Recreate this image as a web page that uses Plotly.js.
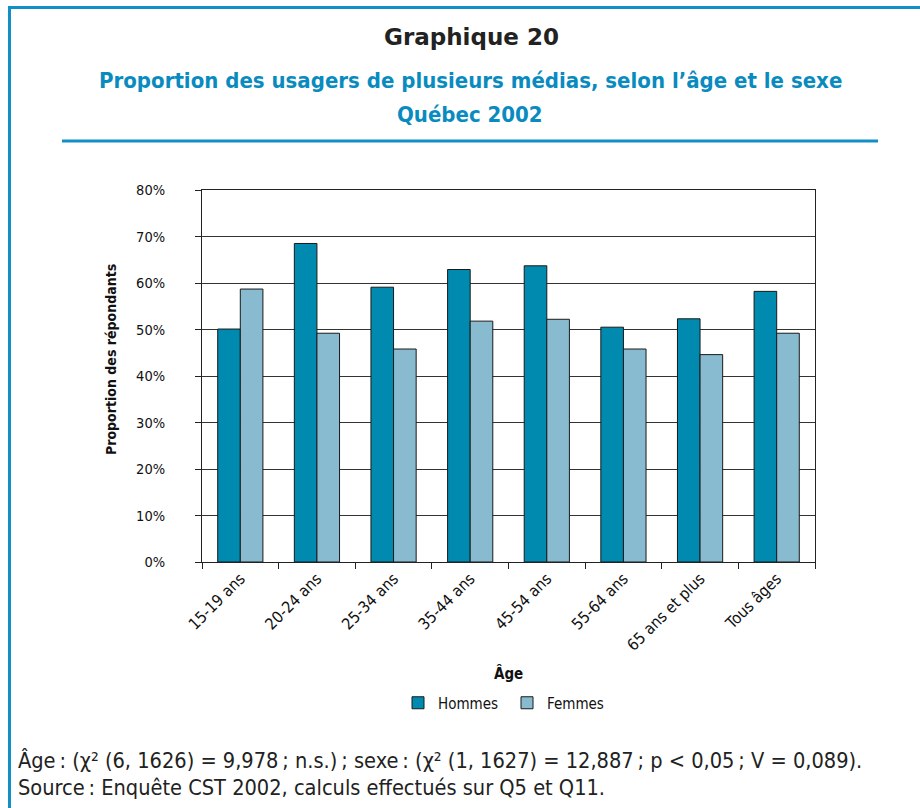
<!DOCTYPE html>
<html>
<head>
<meta charset="utf-8">
<script src="https://cdn.plot.ly/plotly-3.0.1.min.js"></script>
<style>
html,body{margin:0;padding:0;background:#fff;}
#chart{width:920px;height:808px;}
</style>
</head>
<body>
<div id="chart"></div>
<script>
const categories = ["15-19 ans","20-24 ans","25-34 ans","35-44 ans","45-54 ans","55-64 ans","65 ans et plus","Tous âges"];
const hommes = [0.501, 0.685, 0.591, 0.629, 0.637, 0.505, 0.523, 0.582];
const femmes = [0.587, 0.492, 0.458, 0.518, 0.522, 0.458, 0.446, 0.492];
const yTickVals = [0,0.1,0.2,0.3,0.4,0.5,0.6,0.7,0.8];
const yTickText = ["0%","10%","20%","30%","40%","50%","60%","70%","80%"];

const NARROW = "'DejaVu Sans Condensed', 'Liberation Sans Narrow', sans-serif";
const BLUE = "#118fc6";

const traces = [
  {type:"bar", name:"Hommes", x:categories, y:hommes,
   marker:{color:"#008aaf", line:{color:"#1a1a1a", width:1}}, hoverinfo:"skip"},
  {type:"bar", name:"Femmes", x:categories, y:femmes,
   marker:{color:"#89bbd0", line:{color:"#1a1a1a", width:1}}, hoverinfo:"skip"}
];

const layout = {
  width:920, height:808,
  margin:{l:202, r:105, t:190, b:246},
  paper_bgcolor:"#fff", plot_bgcolor:"#fff",
  barmode:"group", bargap:0.41, bargroupgap:0,
  showlegend:true,
  legend:{orientation:"h", x:0.5, xanchor:"center", y:-0.379, yanchor:"middle",
          font:{family:NARROW, size:15, color:"#111"}, entrywidth:64, entrywidthmode:"pixels",
          itemwidth:30, traceorder:"normal"},
  xaxis:{type:"category", tickson:"boundaries", ticks:"outside", ticklen:6, tickcolor:"#222",
         showline:true, linecolor:"#222", linewidth:1, mirror:true,
         tickangle:-45, tickfont:{family:NARROW, size:16, color:"#111"},
         showgrid:false, zeroline:false, fixedrange:true},
  yaxis:{range:[0,0.8], tickvals:yTickVals, ticktext:yTickText, ticks:"outside", ticklen:6,
         tickcolor:"#222", showline:true, linecolor:"#222", linewidth:1, mirror:true,
         showgrid:true, gridcolor:"#333", gridwidth:1, zeroline:false,
         tickfont:{family:NARROW, size:14.5, color:"#111"}, ticklabelstandoff:27, fixedrange:true},
  annotations:[
    {text:"<b>Graphique 20</b>", xref:"paper", yref:"paper", x:0.438, y:1.0,
     showarrow:false, font:{family:"'DejaVu Sans', sans-serif", size:23, color:"#222"},
     xanchor:"center", yanchor:"middle"},
    {text:"<b>Proportion des usagers de plusieurs médias, selon l’âge et le sexe</b>", showarrow:false,
     xref:"paper", yref:"paper", x:0.438, y:1, font:{family:NARROW, size:22, color:"#0a8bbf"},
     xanchor:"center", yanchor:"middle"},
    {text:"<b>Québec 2002</b>", showarrow:false, xref:"paper", yref:"paper", x:0.438, y:1,
     font:{family:NARROW, size:22, color:"#0a8bbf"}, xanchor:"center", yanchor:"middle"},
    {text:"<b>Proportion des répondants</b>", showarrow:false, xref:"paper", yref:"paper",
     x:0, y:0.5, textangle:-90, font:{family:NARROW, size:14, color:"#111"},
     xanchor:"center", yanchor:"middle"},
    {text:"<b>Âge</b>", showarrow:false, xref:"paper", yref:"paper", x:0.5, y:0,
     font:{family:NARROW, size:15, color:"#111"}, xanchor:"center", yanchor:"middle"},
    {text:"Âge\u202F: (χ² (6, 1626) = 9,978\u202F; n.s.)\u202F; sexe\u202F: (χ² (1, 1627) = 12,887\u202F; p < 0,05\u202F; V = 0,089).",
     showarrow:false, xref:"paper", yref:"paper", x:0, y:0, xanchor:"left", yanchor:"middle",
     font:{family:NARROW, size:21.6, color:"#222"}},
    {text:"Source\u202F: Enquête CST 2002, calculs effectués sur Q5 et Q11.",
     showarrow:false, xref:"paper", yref:"paper", x:0, y:0, xanchor:"left", yanchor:"middle",
     font:{family:NARROW, size:21.6, color:"#222"}}
  ],
  shapes:[
    {type:"line", xref:"paper", yref:"paper", x0:0, x1:0, y0:0, y1:0, line:{color:BLUE, width:3}},
    {type:"line", xref:"paper", yref:"paper", x0:0, x1:0, y0:0, y1:0, line:{color:BLUE, width:3}},
    {type:"line", xref:"paper", yref:"paper", x0:0, x1:0, y0:0, y1:0, line:{color:BLUE, width:3}}
  ]
};

const PL = 202, PR = 815, PT = 190, PB = 562;
const px = v => (v - PL) / (PR - PL);
const py = v => (PB - v) / (PB - PT);

const ann = layout.annotations;
ann[0].x = px(471); ann[0].y = py(37);
ann[1].x = px(470); ann[1].y = py(80);
ann[2].x = px(470); ann[2].y = py(115);
ann[3].x = px(111); ann[3].y = py(360);
ann[4].x = px(508); ann[4].y = py(673);
ann[5].x = px(16);  ann[5].y = py(760);
ann[6].x = px(16);  ann[6].y = py(787);

layout.legend.x = px(507);
layout.legend.y = py(703);

const sh = layout.shapes;
sh[0].x0 = px(8); sh[0].x1 = px(920); sh[0].y0 = py(7.5); sh[0].y1 = py(7.5);
sh[1].x0 = px(9.5); sh[1].x1 = px(9.5); sh[1].y0 = py(6); sh[1].y1 = py(808);
sh[2].x0 = px(62); sh[2].x1 = px(878); sh[2].y0 = py(141); sh[2].y1 = py(141);

Plotly.newPlot("chart", traces, layout, {displayModeBar:false, staticPlot:true});
</script>
</body>
</html>
